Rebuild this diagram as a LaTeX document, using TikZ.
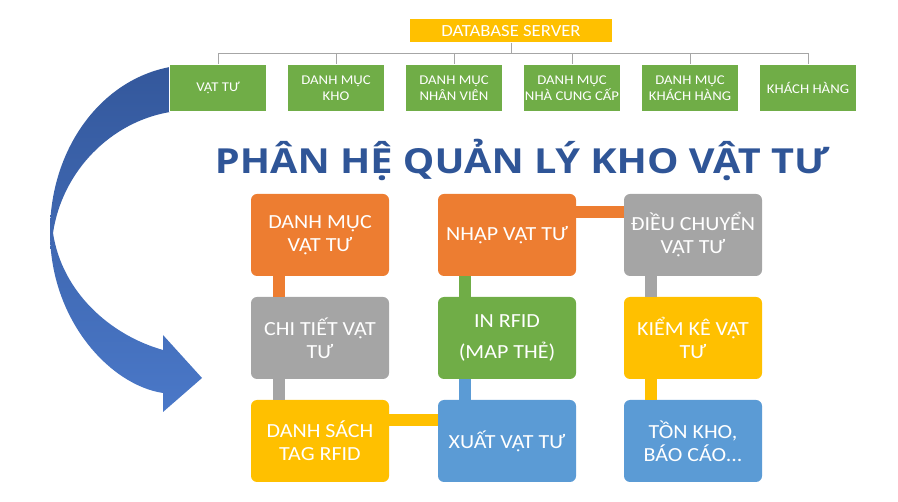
\documentclass[tikz,border=0pt]{standalone}
\usepackage{fontspec}
\setmainfont[FakeStretch=1.1]{Carlito}
\newfontfamily\titlefont[FakeStretch=1.15]{Open Sans}
\usepackage{tikz}
\usetikzlibrary{arrows}

\definecolor{kgreen}{HTML}{70AD47}
\definecolor{korange}{HTML}{ED7D31}
\definecolor{kgray}{HTML}{A5A5A5}
\definecolor{kyellow}{HTML}{FFC000}
\definecolor{kblue}{HTML}{5B9BD5}
\definecolor{ktitle}{HTML}{2F5597}
\definecolor{kwire}{HTML}{A6A6A6}
\definecolor{arrowdark}{HTML}{34589C}
\definecolor{arrowlight}{HTML}{4A78C8}

\begin{document}
\begin{tikzpicture}[x=1pt, y=-1pt, >=stealth]
      \tikzstyle{tile} = [rounded corners=6pt, minimum width=138pt, minimum height=82pt, inner sep=2pt, text=white, align=center, font=\fontsize{20}{23}\selectfont]
      \tikzstyle{table} = [fill=kgreen, draw=white, minimum width=97pt, minimum height=47pt, inner sep=1pt, text=white, align=center, font=\fontsize{13.4}{16}\selectfont]
      \tikzstyle{bar} = [line width=12pt]
      \tikzstyle{wire} = [draw=kwire, line width=0.8pt]
      \useasboundingbox (0,0) rectangle (898,502);
      % curved arrow
      \path[top color=arrowdark, bottom color=arrowlight]
	(170,67) .. controls (100,80) and (50,150) .. (50,232)
	.. controls (50,320) and (110,385) .. (163,393)
	-- (163,412) -- (202,378) -- (163,335) -- (163,350)
	.. controls (110,335) and (62,292) .. (53,233)
	.. controls (62,172) and (110,122) .. (170,112) -- cycle;
      % database and tables
      \begin{scope}[node distance=118pt]
	\path
	node[fill=kyellow, minimum width=202pt, minimum height=23pt, inner sep=0pt, text=white, font=\fontsize{17}{17}\selectfont] at (511,31) (db) {DATABASE SERVER}
	node[table] at (218,88) (vt) {VẬT TƯ}
	node[table, right of=vt] (kho) {DANH MỤC\\KHO}
	node[table, right of=kho] (nv) {DANH MỤC\\NHÂN VIÊN}
	node[table, right of=nv] (ncc) {DANH MỤC\\NHÀ CUNG CẤP}
	node[table, right of=ncc] (kh) {DANH MỤC\\KHÁCH HÀNG}
	node[table, right of=kh] (khach) {KHÁCH HÀNG}
	;
	\coordinate (hub) at (511,53);
	\draw[wire] (db.south) -- (hub);
	\foreach \t in {vt, kho, nv, ncc, kh, khach}
	  \draw[wire] (hub) -| (\t.north);
      \end{scope}
      % title
      \node[anchor=base, text=ktitle, font=\titlefont\fontsize{34.5}{34.5}\selectfont\bfseries] at (522,174) (title) {PHÂN HỆ QUẢN LÝ KHO VẬT TƯ};
      % modules
      \begin{scope}[node distance=103pt]
	\path
	node[tile, fill=korange] at (320,235) (dmvt) {DANH MỤC\\VẬT TƯ}
	node[tile, fill=kgray, below of=dmvt] (ctvt) {CHI TIẾT VẬT\\TƯ}
	node[tile, fill=kyellow, below of=ctvt] (dstag) {DANH SÁCH\\TAG RFID}
	;
      \end{scope}
      \begin{scope}[xshift=187pt, node distance=103pt]
	\path
	node[tile, fill=korange] at (320,235) (nhap) {NHẬP VẬT TƯ}
	node[tile, fill=kgreen, below of=nhap] (inrfid) {IN RFID\\[8pt](MAP THẺ)}
	node[tile, fill=kblue, below of=inrfid] (xuat) {XUẤT VẬT TƯ}
	;
      \end{scope}
      \begin{scope}[xshift=373pt, node distance=103pt]
	\path
	node[tile, fill=kgray] at (320,235) (dieu) {ĐIỀU CHUYỂN\\VẬT TƯ}
	node[tile, fill=kyellow, below of=dieu] (kiem) {KIỂM KÊ VẬT\\TƯ}
	node[tile, fill=kblue, below of=kiem] (ton) {TỒN KHO,\\BÁO CÁO...}
	;
      \end{scope}
      \path[bar]
	([xshift=-41pt]dmvt.south) edge[korange] ([xshift=-41pt]ctvt.north)
	([xshift=-41pt]ctvt.south) edge[kgray] ([xshift=-41pt]dstag.north)
	([xshift=-42pt]nhap.south) edge[kgreen] ([xshift=-42pt]inrfid.north)
	([xshift=-42pt]inrfid.south) edge[kblue] ([xshift=-42pt]xuat.north)
	([xshift=-42pt]dieu.south) edge[kgray] ([xshift=-42pt]kiem.north)
	([xshift=-42pt]kiem.south) edge[kyellow] ([xshift=-42pt]ton.north)
	([yshift=23pt]nhap.east) edge[korange] ([yshift=23pt]dieu.west)
	([yshift=21pt]dstag.east) edge[kyellow] ([yshift=21pt]xuat.west)
	;
    \end{tikzpicture}
\end{document}
